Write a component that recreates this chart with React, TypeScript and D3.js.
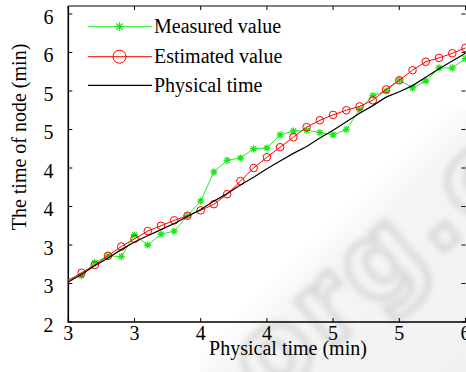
import { useEffect, useRef } from "react";
import * as d3 from "d3";

// sample instants (min)
const times = [
  3.0, 3.1, 3.2, 3.3, 3.4, 3.5, 3.6, 3.7, 3.8, 3.9, 4.0, 4.1, 4.2, 4.3, 4.4, 4.5,
  4.6, 4.7, 4.8, 4.9, 5.0, 5.1, 5.2, 5.3, 5.4, 5.5, 5.6, 5.7, 5.8, 5.9, 6.0,
];

const measured = [
  2.55, 2.6, 2.77, 2.86, 2.85, 3.13, 3.0, 3.14, 3.18, 3.38, 3.57, 3.95, 4.1, 4.13, 4.25, 4.26,
  4.43, 4.48, 4.49, 4.46, 4.43, 4.5, 4.76, 4.94, 5.0, 5.14, 5.04, 5.13, 5.3, 5.3, 5.42,
];

const estimated = [
  2.54, 2.64, 2.74, 2.86, 2.98, 3.08, 3.18, 3.25, 3.32, 3.38, 3.45, 3.53, 3.66, 3.83, 4.0, 4.14,
  4.27, 4.4, 4.53, 4.62, 4.69, 4.75, 4.8, 4.88, 5.02, 5.14, 5.27, 5.38, 5.43, 5.49, 5.56,
];

const physical = [
  2.52, 2.62, 2.73, 2.83, 2.94, 3.04, 3.12, 3.2, 3.28, 3.37, 3.46, 3.57, 3.67, 3.78, 3.88, 3.99,
  4.09, 4.19, 4.28, 4.39, 4.49, 4.6, 4.71, 4.81, 4.92, 4.99, 5.07, 5.18, 5.29, 5.39, 5.49,
];

const xTicks = [3, 3.5, 4, 4.5, 5, 5.5, 6];
const xTickLabels = ["3", "3", "4", "4", "5", "5", "6"];
const yTicks = [2, 2.5, 3, 3.5, 4, 4.5, 5, 5.5, 6];
const yTickLabels = ["2", "3", "3", "4", "4", "5", "5", "6", "6"];

const legendLabels = ["Measured value", "Estimated value", "Physical time"];

const W = 466;
const H = 372;
const FONT = "'Liberation Serif', 'Times New Roman', serif";

export default function App() {
  const svgRef = useRef<SVGSVGElement>(null);

  useEffect(() => {
    if (!svgRef.current) return;
    const svg = d3.select(svgRef.current);
    svg.selectAll("*").remove();

    const x = d3.scaleLinear().domain([3, 6]).range([68.3, 465.5]);
    const y = d3.scaleLinear().domain([2, 6]).range([322, 14]);
    const left = x(3);
    const bottom = y(2);
    const top = 6;
    const right = W + 1;

    svg.append("rect").attr("width", W).attr("height", H).attr("fill", "#fff");

    // faint watermark in the lower right
    const defs = svg.append("defs");
    defs
      .append("filter")
      .attr("id", "blur")
      .attr("x", "-20%")
      .attr("y", "-20%")
      .attr("width", "140%")
      .attr("height", "140%")
      .append("feGaussianBlur")
      .attr("stdDeviation", 3.2);
    const band = defs
      .append("linearGradient")
      .attr("id", "band")
      .attr("x1", "0")
      .attr("y1", "0")
      .attr("x2", "1")
      .attr("y2", "1");
    band.append("stop").attr("offset", "0.45").attr("stop-color", "#fff");
    band.append("stop").attr("offset", "0.55").attr("stop-color", "#f5f5f5");
    band.append("stop").attr("offset", "1").attr("stop-color", "#f1f1f1");
    svg
      .append("rect")
      .attr("x", 200)
      .attr("y", 110)
      .attr("width", 266)
      .attr("height", 262)
      .attr("fill", "url(#band)");
    svg
      .append("text")
      .attr("transform", "translate(268,404) rotate(-41)")
      .attr("font-family", "'DejaVu Sans', sans-serif")
      .attr("font-weight", "bold")
      .attr("font-size", 108)
      .attr("letter-spacing", 6)
      .attr("fill", "none")
      .attr("stroke", "#d2d2d2")
      .attr("stroke-width", 6)
      .attr("opacity", 0.85)
      .attr("filter", "url(#blur)")
      .text("org.c");

    // frame
    const frame = svg.append("g").attr("stroke", "#000").attr("fill", "none");
    frame.append("path").attr("d", `M${left},${top}V${bottom}H${right}`).attr("stroke-width", 1.6);
    frame.append("path").attr("d", `M${left},${top}H${right}`).attr("stroke-width", 1.2);

    const tickLen = 4;
    xTicks.forEach((t) => {
      frame.append("line").attr("x1", x(t)).attr("x2", x(t)).attr("y1", bottom).attr("y2", bottom - tickLen);
      frame.append("line").attr("x1", x(t)).attr("x2", x(t)).attr("y1", top).attr("y2", top + tickLen);
    });
    yTicks.forEach((t) => {
      frame.append("line").attr("x1", left).attr("x2", left + tickLen).attr("y1", y(t)).attr("y2", y(t));
      frame.append("line").attr("x1", W - 0.5).attr("x2", W - 0.5 - tickLen).attr("y1", y(t)).attr("y2", y(t));
    });

    svg
      .append("g")
      .attr("font-family", FONT)
      .attr("font-size", 20)
      .attr("text-anchor", "middle")
      .selectAll("text")
      .data(xTicks)
      .join("text")
      .attr("x", (d) => x(d))
      .attr("y", 339.5)
      .text((_, i) => xTickLabels[i]);

    svg
      .append("g")
      .attr("font-family", FONT)
      .attr("font-size", 20)
      .attr("text-anchor", "end")
      .selectAll("text")
      .data(yTicks)
      .join("text")
      .attr("x", 53.5)
      .attr("y", (d) => y(d) + 9.5)
      .text((_, i) => yTickLabels[i]);

    svg
      .append("text")
      .attr("x", 288)
      .attr("y", 355)
      .attr("text-anchor", "middle")
      .attr("font-family", FONT)
      .attr("font-size", 20)
      .text("Physical time (min)");

    svg
      .append("text")
      .attr("transform", "translate(26,137) rotate(-90)")
      .attr("text-anchor", "middle")
      .attr("font-family", FONT)
      .attr("font-size", 20)
      .text("The time of node (min)");

    const line = d3
      .line<number>()
      .x((_, i) => x(times[i]))
      .y((d) => y(d));

    const star = (g: d3.Selection<SVGGElement, unknown, null, undefined>, cx: number, cy: number, r: number) => {
      const d = r * 0.72;
      g.append("path")
        .attr("d", `M${cx - r},${cy}H${cx + r}M${cx},${cy - r}V${cy + r}M${cx - d},${cy - d}L${cx + d},${cy + d}M${cx - d},${cy + d}L${cx + d},${cy - d}`)
        .attr("stroke", "#18e818")
        .attr("stroke-width", 1.3)
        .attr("fill", "none");
    };

    // measured
    const gM = svg.append("g");
    gM.append("path").attr("d", line(measured)).attr("fill", "none").attr("stroke", "#22ee22").attr("stroke-width", 1);
    measured.forEach((v, i) => {
      if (i > 0) star(gM, x(times[i]), y(v), 3.6);
    });

    // estimated
    const gE = svg.append("g");
    gE.append("path").attr("d", line(estimated)).attr("fill", "none").attr("stroke", "#ff0000").attr("stroke-width", 1);
    gE.selectAll("circle")
      .data(estimated.slice(1))
      .join("circle")
      .attr("cx", (_, i) => x(times[i + 1]))
      .attr("cy", (d) => y(d))
      .attr("r", 3.8)
      .attr("fill", "none")
      .attr("stroke", "#ff0000")
      .attr("stroke-width", 1);

    // physical
    svg.append("path").attr("d", line(physical)).attr("fill", "none").attr("stroke", "#000").attr("stroke-width", 1.2);

    // legend
    const rows = [26.7, 56.7, 85.3];
    const colors = ["#22ee22", "#ff0000", "#000"];
    const lg = svg.append("g");
    legendLabels.forEach((label, i) => {
      lg.append("line")
        .attr("x1", 88)
        .attr("x2", 152)
        .attr("y1", rows[i])
        .attr("y2", rows[i])
        .attr("stroke", colors[i])
        .attr("stroke-width", i === 2 ? 1.2 : 1);
      if (i === 0) star(lg, 119.5, rows[i], 4.4);
      if (i === 1)
        lg.append("circle")
          .attr("cx", 119.5)
          .attr("cy", rows[i])
          .attr("r", 6.5)
          .attr("fill", "none")
          .attr("stroke", "#ff0000")
          .attr("stroke-width", 1);
      lg.append("text")
        .attr("x", 154)
        .attr("y", rows[i] + 6.6)
        .attr("font-family", FONT)
        .attr("font-size", 20)
        .text(label);
    });
  }, []);

  return (
    <svg
      ref={svgRef}
      width={W}
      height={H}
      style={{ position: "fixed", left: 0, top: 0, display: "block" }}
    />
  );
}
